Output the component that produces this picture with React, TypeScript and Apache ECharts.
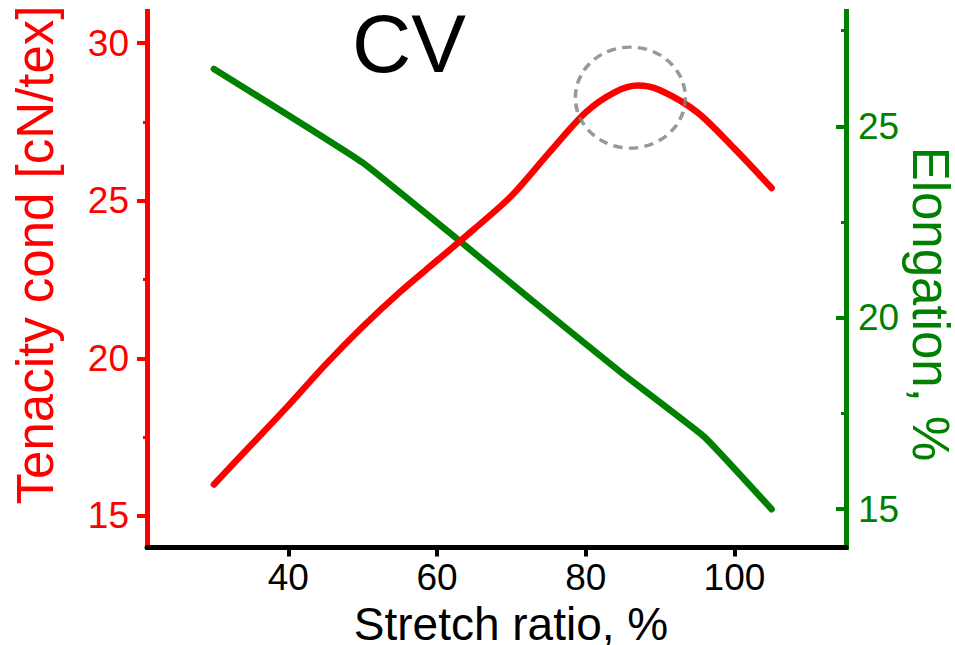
import React, { useEffect, useRef } from "react";
import * as echarts from "echarts";

const FONT = '"Liberation Sans", Arial, sans-serif';

const tenacityX = [30, 35, 40, 45, 50, 55, 60, 65, 70, 75, 80, 84, 87, 90, 95, 100, 105];
const tenacityY = [16.0, 17.25, 18.5, 19.8, 21.0, 22.1, 23.1, 24.1, 25.15, 26.5, 27.8, 28.45, 28.65, 28.5, 27.8, 26.65, 25.4];
const elongationX = [30, 50, 73, 85, 96, 105];
const elongationY = [26.5, 24.05, 20.42, 18.53, 16.88, 15.0];
const xTicks = [40, 60, 80, 100];
const leftTicks = [15, 20, 25, 30];
const leftMinor = [17.5, 22.5, 27.5];
const rightTicks = [15, 20, 25];
const rightMinor = [17.5, 22.5, 27.5];
const highlightX = [86];
const highlightY = [28.27];

const RED = "#ff0000";
const GREEN = "#008000";

export default function App() {
  const ref = useRef<HTMLDivElement>(null);
  useEffect(() => {
    if (!ref.current) return;
    const chart = echarts.init(ref.current, null, { renderer: "svg" });
    const option: any = {
      animation: false,
      backgroundColor: "#ffffff",
      textStyle: { fontFamily: FONT },
      grid: { left: 147, right: 109, top: 11.5, bottom: 97.5, containLabel: false },
      xAxis: {
        type: "value",
        min: 21,
        max: 115,
        axisLine: { lineStyle: { color: "#000", width: 5 } },
        axisTick: { customValues: xTicks, length: 9, lineStyle: { color: "#000", width: 4 } },
        axisLabel: { customValues: xTicks, fontSize: 37, color: "#000", margin: 11, fontFamily: FONT },
        splitLine: { show: false },
      },
      yAxis: [
        {
          type: "value", position: "left", min: 14, max: 31,
          axisLine: { show: true, lineStyle: { color: RED, width: 5, cap: "square" } },
          axisTick: { show: true, customValues: leftTicks, length: 10, lineStyle: { color: RED, width: 4 } },
          axisLabel: { customValues: leftTicks, fontSize: 37, color: RED, margin: 18, fontFamily: FONT },
          splitLine: { show: false },
        },
        {
          type: "value", position: "left", min: 14, max: 31,
          axisLine: { show: false },
          axisTick: { show: true, customValues: leftMinor, length: 4, lineStyle: { color: RED, width: 3 } },
          axisLabel: { show: false },
          splitLine: { show: false },
        },
        {
          type: "value", position: "right", min: 14, max: 28,
          axisLine: { show: true, lineStyle: { color: GREEN, width: 5, cap: "square" } },
          axisTick: { show: true, inside: true, customValues: rightTicks, length: 10, lineStyle: { color: GREEN, width: 4 } },
          axisLabel: { customValues: rightTicks, fontSize: 37, color: GREEN, margin: 12, fontFamily: FONT },
          splitLine: { show: false },
        },
        {
          type: "value", position: "right", min: 14, max: 28,
          axisLine: { show: false },
          axisTick: { show: true, inside: true, customValues: rightMinor, length: 5, lineStyle: { color: GREEN, width: 3 } },
          axisLabel: { show: false },
          splitLine: { show: false },
        },
      ],
      series: [
        {
          name: "Tenacity",
          type: "line",
          yAxisIndex: 0,
          data: tenacityX.map((x, i) => [x, tenacityY[i]]),
          smooth: 0.3,
          symbol: "none",
          lineStyle: { color: RED, width: 6.5, cap: "round", join: "round" },
          z: 3,
        },
        {
          name: "Elongation",
          type: "line",
          yAxisIndex: 2,
          data: elongationX.map((x, i) => [x, elongationY[i]]),
          smooth: 0.1,
          symbol: "none",
          lineStyle: { color: GREEN, width: 6.5, cap: "round", join: "round" },
          z: 2,
        },
        {
          name: "Highlight",
          type: "scatter",
          yAxisIndex: 0,
          data: highlightX.map((x, i) => [x, highlightY[i]]),
          symbol: "circle",
          symbolSize: [110, 101],
          itemStyle: {
            color: "rgba(0,0,0,0)",
            borderColor: "#808080",
            borderWidth: 3.5,
            borderType: [9, 6],
          },
          z: 5,
          silent: true,
        },
      ],
      graphic: [
        {
          type: "text", x: 409, y: 43,
          style: { text: "CV", fontSize: 82, fill: "#000", align: "center", verticalAlign: "middle", fontFamily: FONT },
        },
        {
          type: "text", x: 35, y: 255, rotation: Math.PI / 2,
          style: { text: "Tenacity cond [cN/tex]", fontSize: 51, fill: RED, align: "center", verticalAlign: "middle", fontFamily: FONT },
        },
        {
          type: "text", x: 930, y: 304, rotation: -Math.PI / 2,
          style: { text: "Elongation, %", fontSize: 51, fill: GREEN, align: "center", verticalAlign: "middle", fontFamily: FONT },
        },
        {
          type: "text", x: 511, y: 624,
          style: { text: "Stretch ratio, %", fontSize: 46, fill: "#000", align: "center", verticalAlign: "middle", fontFamily: FONT },
        },
      ],
    };
    chart.setOption(option);
    return () => chart.dispose();
  }, []);
  return (
    <div
      ref={ref}
      style={{ position: "fixed", left: 0, top: 0, width: 955, height: 645, background: "#fff" }}
    />
  );
}
